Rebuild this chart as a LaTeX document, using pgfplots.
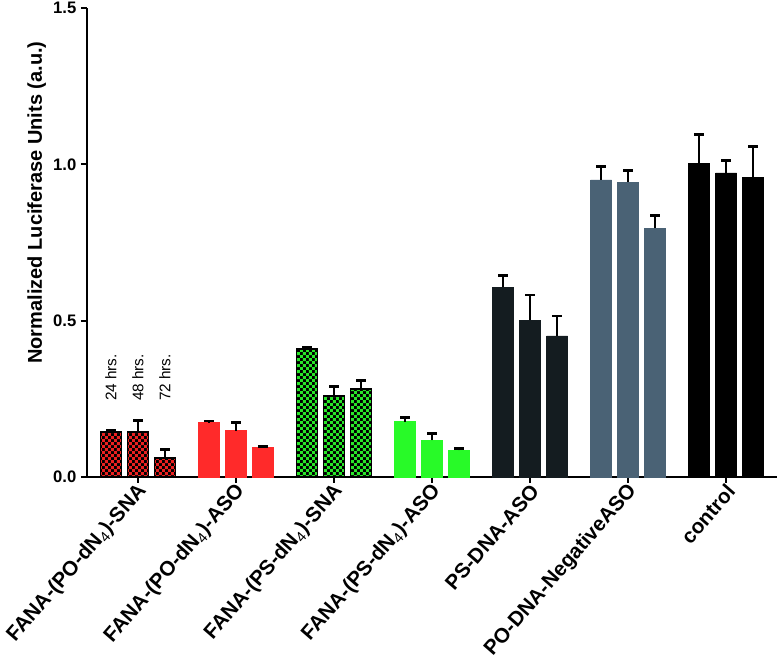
\documentclass[border=0pt]{standalone}
\usepackage{fontspec}
\setmainfont{Liberation Sans}
\usepackage{pgfplots}
\pgfplotsset{compat=1.18}
\usetikzlibrary{patterns, calc}

\definecolor{chkred}{RGB}{235,32,32}
\definecolor{asored}{RGB}{255,42,42}
\definecolor{chkgreen}{RGB}{40,230,40}
\definecolor{asogreen}{RGB}{40,250,40}
\definecolor{psdark}{RGB}{20,28,32}
\definecolor{slate}{RGB}{74,98,117}

% checkerboard at the size of the reference squares
\pgfdeclarepatternformonly{smallchecker}{\pgfpointorigin}{\pgfqpoint{4.8pt}{4.8pt}}{\pgfqpoint{4.8pt}{4.8pt}}{%
  \pgfpathrectangle{\pgfpointorigin}{\pgfqpoint{2.4pt}{2.4pt}}%
  \pgfpathrectangle{\pgfqpoint{2.4pt}{2.4pt}}{\pgfqpoint{2.4pt}{2.4pt}}%
  \pgfusepath{fill}}

\pgfplotsset{
  solidbar/.style={fill=#1, draw=#1, line width=0.4pt, bar shift=0pt},
  chkbar/.style={preaction={fill=black}, pattern=smallchecker, pattern color=#1,
    draw=black, line width=1.4pt, bar shift=0pt},
}

\begin{document}
\begin{tikzpicture}
\begin{axis}[
  scale only axis,
  width=517.5pt, height=351.75pt,
  ybar, bar width=15.75pt,
  xmin=-0.52, xmax=6.52,
  ymin=0, ymax=1.5,
  clip=false,
  axis lines=left,
  axis line style={-, line width=1.5pt, black},
  tick align=outside,
  major tick length=4.5pt,
  tick style={line width=1.5pt, black},
  xtick={0,1,2,3,4,5,6},
  xticklabels={
    FANA-(PO-dN\textsubscript{\mdseries 4})-SNA,
    FANA-(PO-dN\textsubscript{\mdseries 4})-ASO,
    FANA-(PS-dN\textsubscript{\mdseries 4})-SNA,
    FANA-(PS-dN\textsubscript{\mdseries 4})-ASO,
    PS-DNA-ASO,
    PO-DNA-NegativeASO,
    control},
  xticklabel style={rotate=49, anchor=east, inner sep=1.5pt, xshift=1.5pt, yshift=-5pt,
    font=\fontsize{15.5}{17}\selectfont\bfseries},
  ytick={0,0.5,1,1.5},
  yticklabel style={font=\fontsize{12.5}{14}\selectfont\bfseries},
  /pgf/number format/.cd, fixed, fixed zerofill, precision=1, assume math mode=true,
  /pgfplots/.cd,
  ylabel={Normalized Luciferase Units (a.u.)},
  ylabel style={at={(axis description cs:-0.073,0.585)}, anchor=center,
    font=\fontsize{15}{17}\selectfont\bfseries},
  error bars/y dir=plus,
  error bars/y explicit,
  error bars/error bar style={line width=2pt, black},
  error bars/error mark options={rotate=90, line width=2.2pt, mark size=3.6pt, black},
]
\coordinate (bl) at (rel axis cs:0,0);
\coordinate (tr) at (rel axis cs:1,1);

% FANA-(PO-dN4)-SNA
\addplot[chkbar=chkred] coordinates {
  (-0.2755,0.145) +- (0,0.004)
  (0,0.145) +- (0,0.037)
  (0.2755,0.060) +- (0,0.029)
};
% FANA-(PO-dN4)-ASO
\addplot[solidbar=asored] coordinates {
  (0.7245,0.174) +- (0,0.005)
  (1,0.148) +- (0,0.026)
  (1.2755,0.094) +- (0,0.005)
};
% FANA-(PS-dN4)-SNA
\addplot[chkbar=chkgreen] coordinates {
  (1.7245,0.410) +- (0,0.005)
  (2,0.259) +- (0,0.030)
  (2.2755,0.282) +- (0,0.026)
};
% FANA-(PS-dN4)-ASO
\addplot[solidbar=asogreen] coordinates {
  (2.7245,0.177) +- (0,0.014)
  (3,0.117) +- (0,0.023)
  (3.2755,0.085) +- (0,0.005)
};
% PS-DNA-ASO
\addplot[solidbar=psdark] coordinates {
  (3.7245,0.607) +- (0,0.036)
  (4,0.502) +- (0,0.080)
  (4.2755,0.451) +- (0,0.064)
};
% PO-DNA-NegativeASO
\addplot[solidbar=slate] coordinates {
  (4.7245,0.950) +- (0,0.042)
  (5,0.943) +- (0,0.037)
  (5.2755,0.795) +- (0,0.040)
};
% control
\addplot[solidbar=black] coordinates {
  (5.7245,1.003) +- (0,0.091)
  (6,0.973) +- (0,0.039)
  (6.2755,0.958) +- (0,0.098)
};

\node[rotate=90, anchor=west, font=\fontsize{11.5}{13}\selectfont] at (axis cs:-0.2755,0.228) {24 hrs.};
\node[rotate=90, anchor=west, font=\fontsize{11.5}{13}\selectfont] at (axis cs:0,0.228) {48 hrs.};
\node[rotate=90, anchor=west, font=\fontsize{11.5}{13}\selectfont] at (axis cs:0.2755,0.228) {72 hrs.};
\end{axis}
\pgfresetboundingbox
\path[use as bounding box] ($(bl)+(-65.25pt,-139.5pt)$) rectangle ($(tr)+(1.5pt,6pt)$);
\end{tikzpicture}
\end{document}
